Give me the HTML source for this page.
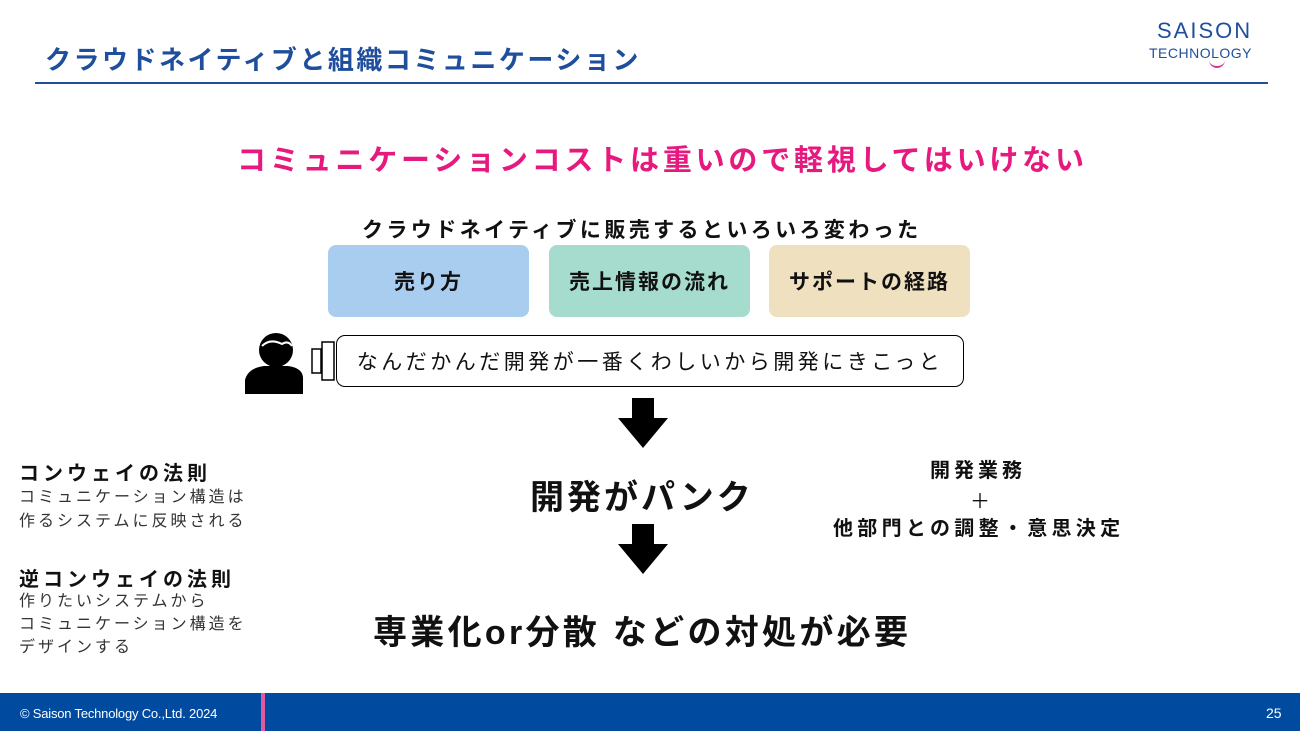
<!DOCTYPE html>
<html><head><meta charset="utf-8"><style>
body{margin:0;width:1300px;height:731px;position:relative;background:#fff;overflow:hidden;font-family:"Liberation Sans","Noto Sans CJK JP",sans-serif;color:#111}
.a{position:absolute;white-space:nowrap}
.b{position:absolute;border-radius:8px;font-weight:bold;font-size:21px;display:flex;align-items:center;justify-content:center;letter-spacing:2px}
</style></head><body>
<div class="a" style="left:45px;top:40px;font-size:26px;font-weight:bold;color:#1f4e9c;letter-spacing:2.5px">クラウドネイティブと組織コミュニケーション</div>
<div style="position:absolute;left:35px;top:82px;width:1233px;height:2px;background:#1f4e9c"></div>
<div class="a" style="left:1157px;top:18px;font-size:22px;color:#1f4e9c;letter-spacing:2px">SAISON</div>
<div class="a" style="left:1149px;top:45px;font-size:14px;color:#1f4e9c;letter-spacing:0.5px">TECHNOLOGY</div>
<div style="position:absolute;left:1209px;top:60px;width:16px;height:6px;border-bottom:2px solid #d4348a;border-radius:0 0 10px 10px"></div>
<div class="a" style="left:237px;top:137px;font-size:29px;font-weight:bold;color:#e6197f;letter-spacing:3.8px">コミュニケーションコストは重いので軽視してはいけない</div>
<div class="a" style="left:362px;top:214px;font-size:21px;font-weight:bold;letter-spacing:3.4px">クラウドネイティブに販売するといろいろ変わった</div>
<div class="b" style="left:328px;top:245px;width:201px;height:72px;background:#a9cdef">売り方</div>
<div class="b" style="left:549px;top:245px;width:201px;height:72px;background:#a6dccd">売上情報の流れ</div>
<div class="b" style="left:769px;top:245px;width:201px;height:72px;background:#efe0c0">サポートの経路</div>
<svg style="position:absolute;left:240px;top:328px" width="100" height="70">
<circle cx="36" cy="22" r="17" fill="#000"/>
<path d="M22 18 Q30 10 42 16 Q48 12 52 18" stroke="#fff" stroke-width="2" fill="none"/>
<path d="M5 66 L5 52 Q8 40 24 38 L48 38 Q64 40 63 52 L63 66 Z" fill="#000"/>
<rect x="72" y="21" width="9" height="24" fill="#fff" stroke="#000" stroke-width="1.5"/>
<rect x="82" y="14" width="12" height="38" fill="#fff" stroke="#000" stroke-width="1.5"/>
</svg>
<div class="a" style="left:336px;top:335px;width:626px;height:50px;border:1.5px solid #000;border-radius:9px;font-size:21px;display:flex;align-items:center;justify-content:center;letter-spacing:3.5px">なんだかんだ開発が一番くわしいから開発にきこっと</div>
<svg style="position:absolute;left:615px;top:398px" width="56" height="180">
<polygon points="17,0 39,0 39,20 53,20 28,50 3,20 17,20" fill="#000"/>
<polygon points="17,126 39,126 39,146 53,146 28,176 3,146 17,146" fill="#000"/>
</svg>
<div class="a" style="left:530px;top:470px;font-size:34px;font-weight:bold;letter-spacing:3px">開発がパンク</div>
<div class="a" style="left:373px;top:605px;font-size:34px;font-weight:bold;letter-spacing:3.3px">専業化or分散 などの対処が必要</div>
<div class="a" style="left:930px;top:454px;font-size:20px;font-weight:bold;letter-spacing:4px">開発業務</div>
<div class="a" style="left:970px;top:485px;font-size:20px">＋</div>
<div class="a" style="left:833px;top:512px;font-size:20px;font-weight:bold;letter-spacing:4.3px">他部門との調整・意思決定</div>
<div class="a" style="left:19px;top:457px;font-size:20px;font-weight:bold;letter-spacing:4px">コンウェイの法則</div>
<div class="a" style="left:19px;top:486px;font-size:16px;line-height:24px;color:#333;letter-spacing:3px">コミュニケーション構造は<br>作るシステムに反映される</div>
<div class="a" style="left:19px;top:563px;font-size:20px;font-weight:bold;letter-spacing:4px">逆コンウェイの法則</div>
<div class="a" style="left:19px;top:590px;font-size:16px;line-height:23px;color:#333;letter-spacing:3px">作りたいシステムから<br>コミュニケーション構造を<br>デザインする</div>
<div style="position:absolute;left:0;top:693px;width:1300px;height:38px;background:#004a9f"></div>
<div style="position:absolute;left:261px;top:693px;width:4px;height:38px;background:#e05aa0"></div>
<div class="a" style="left:20px;top:706px;font-size:13px;color:#fff;letter-spacing:-0.2px">© Saison Technology Co.,Ltd. 2024</div>
<div class="a" style="left:1266px;top:705px;font-size:14px;color:#fff">25</div>
</body></html>
